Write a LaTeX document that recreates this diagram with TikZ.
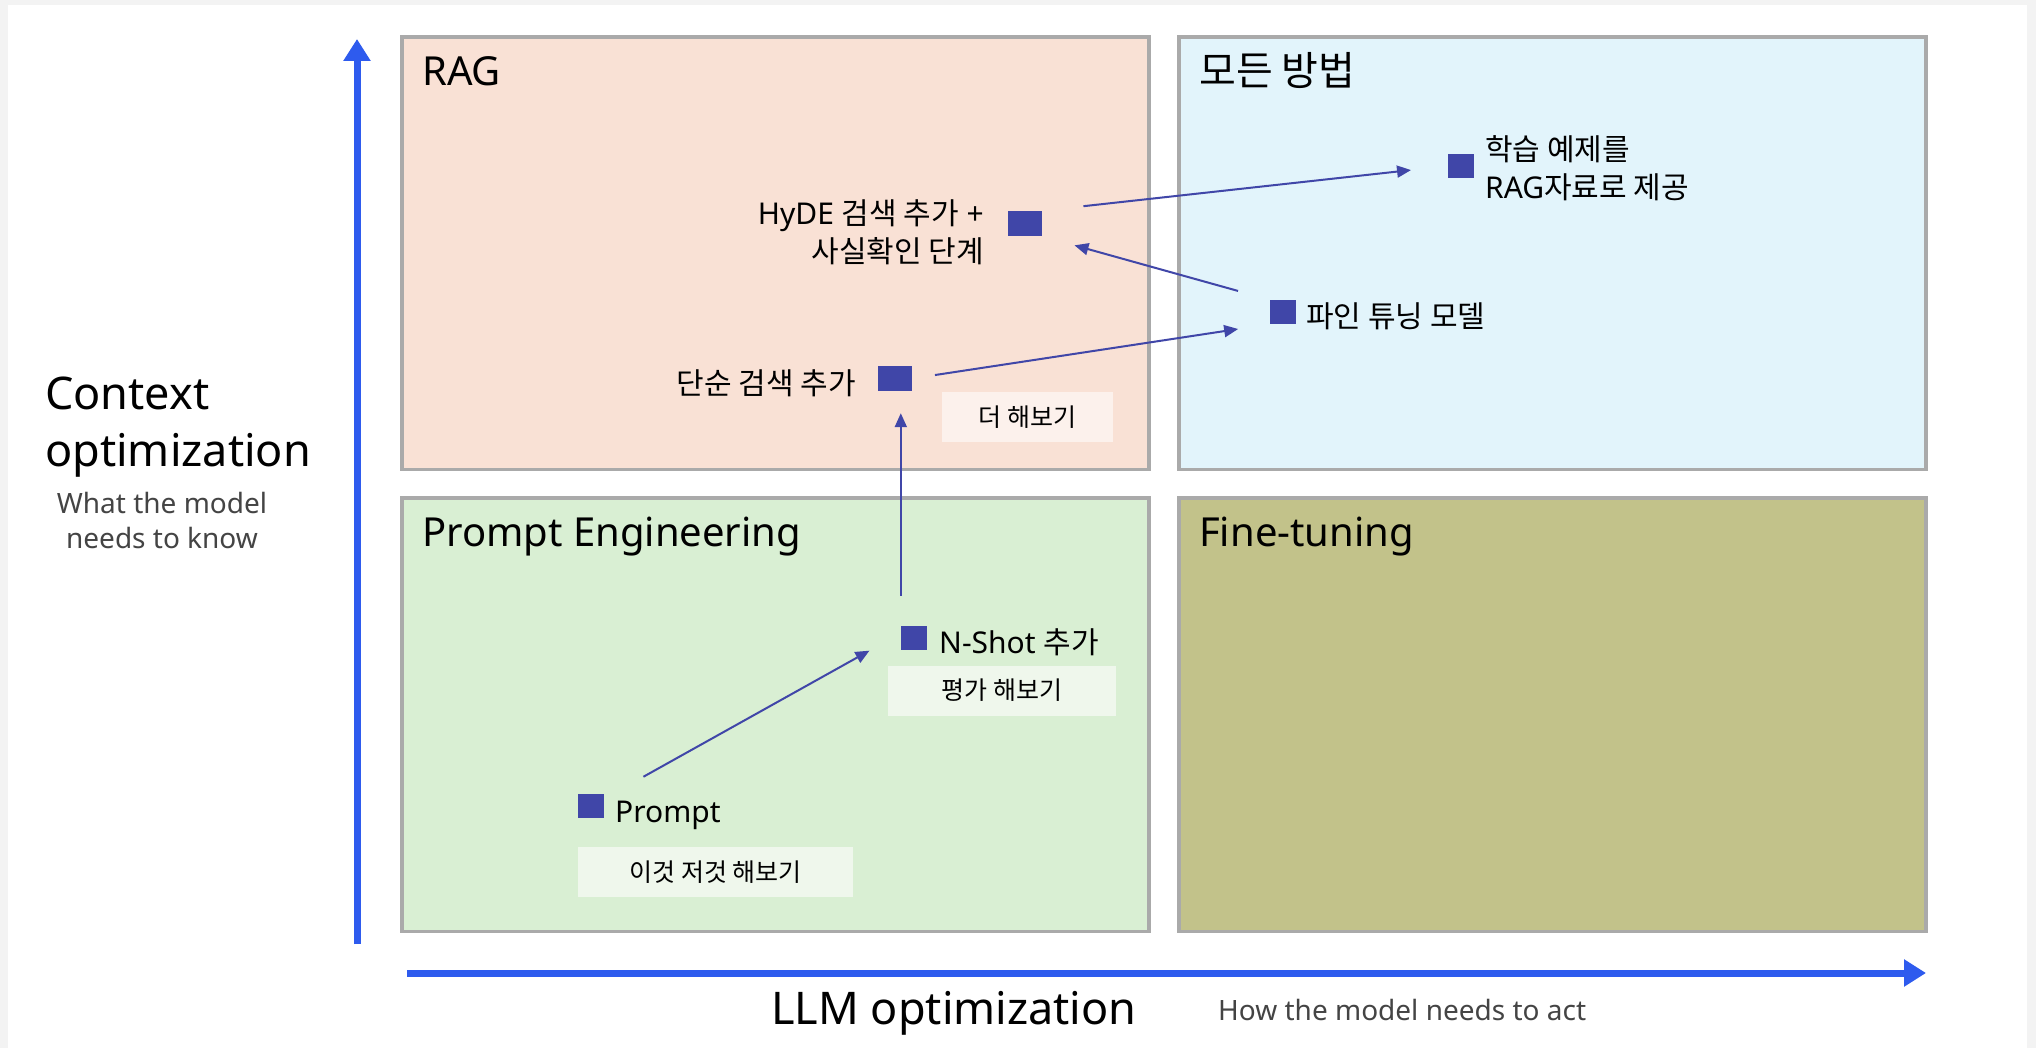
\documentclass[tikz,border=0pt]{standalone}
\usepackage{fontspec}
\setmainfont{Noto Sans}
\newfontfamily\kr{Noto Sans CJK KR}
\usetikzlibrary{arrows.meta}

\definecolor{pagegray}{HTML}{F3F3F3}
\definecolor{boxgray}{HTML}{AAAAAA}
\definecolor{ragfill}{HTML}{F9E1D5}
\definecolor{allfill}{HTML}{E2F4FB}
\definecolor{pefill}{HTML}{D9EFD3}
\definecolor{ftfill}{HTML}{C2C28A}
\definecolor{markblue}{HTML}{4046A8}
\definecolor{axisblue}{HTML}{2E5BEE}
\definecolor{subgray}{HTML}{444444}
\definecolor{tagpeach}{HTML}{FCF1EC}
\definecolor{taggreen}{HTML}{EFF7EC}

\tikzset{
  quad/.style={draw=boxgray, line width=3.5pt},
  quadtitle/.style={anchor=base west, inner sep=0pt, font=\fontsize{40}{48}\selectfont},
  spot/.style={fill=markblue, inner sep=0pt, minimum width=26pt, minimum height=24pt},
  widespot/.style={spot, minimum width=34pt, minimum height=25pt},
  lbl/.style={inner sep=0pt, font=\fontsize{30}{38}\selectfont},
  tagbox/.style={inner sep=0pt, minimum height=50pt, font=\kr\fontsize{25}{30}\selectfont},
  flow/.style={draw=markblue, line width=2pt, -{Triangle[length=14pt,width=12pt]}},
  axisline/.style={draw=axisblue, line width=7pt, -{Triangle[length=22pt,width=26pt]}},
}

\begin{document}
\begin{tikzpicture}[x=1pt, y=-1pt]
    \useasboundingbox (0,0) rectangle (2036,1048);
    \fill[pagegray] (0,0) rectangle (2036,1048);
    \fill[white] (8,5) rectangle (2027,1048);

    % quadrants
    \draw[quad, fill=ragfill] (402,37) rectangle (1149,469.5);
    \draw[quad, fill=allfill] (1179,37) rectangle (1926,469.5);
    \draw[quad, fill=pefill] (402,498) rectangle (1149,931.5);
    \draw[quad, fill=ftfill] (1179,498) rectangle (1926,931.5);

    \node[quadtitle] (ragtitle) at (422,86) {RAG};
    \node[quadtitle] (alltitle) at (1199,86) {\kr 모든 방법};
    \node[quadtitle] (petitle) at (422,546) {Prompt Engineering};
    \node[quadtitle] (fttitle) at (1199,546) {Fine-tuning};

    % axes
    \coordinate (vbot) at (357,944);
    \coordinate (vtop) at (357,39);
    \coordinate (hleft) at (407,973);
    \coordinate (hright) at (1926,973);
    \draw[axisline] (vbot) -- (vtop);
    \draw[axisline] (hleft) -- (hright);

    \node[anchor=west, align=left, inner sep=0pt, font=\fontsize{45}{57}\selectfont] (ctxlbl) at (45,427) {Context\\optimization};
    \node[align=center, inner sep=0pt, text=subgray, font=\fontsize{28}{35}\selectfont] (ctxsub) at (162,520) {What the model\\needs to know};
    \node[anchor=base west, inner sep=0pt, font=\fontsize{45}{54}\selectfont] (llmlbl) at (771,1024) {LLM optimization};
    \node[anchor=base west, inner sep=0pt, text=subgray, font=\fontsize{28}{35}\selectfont] (llmsub) at (1218,1020) {How the model needs to act};

    % steps
    \node[spot] (prompt) at (591,806) {};
    \node[spot] (nshot) at (914,638) {};
    \node[widespot] (simple) at (895,378.5) {};
    \node[spot] (tune) at (1283,312) {};
    \node[widespot] (hyde) at (1024.5,223.5) {};
    \node[spot] (learn) at (1461,166) {};

    \node[lbl, anchor=base west] (promptlbl) at (615,822) {Prompt};
    \node[lbl, anchor=base west] (nshotlbl) at (939,653) {N-Shot {\kr 추가}};
    \node[lbl, anchor=base east] (simplelbl) at (856,394) {\kr 단순 검색 추가};
    \node[lbl, anchor=base west] (tunelbl) at (1306,328) {\kr 파인 튜닝 모델};
    \node[lbl, anchor=east, align=right] (hydelbl) at (984,232) {HyDE {\kr 검색 추가} +\\{\kr 사실확인 단계}};
    \node[lbl, anchor=west, align=left] (learnlbl) at (1485,168) {{\kr 학습 예제를}\\RAG{\kr 자료로 제공}};

    \node[tagbox, fill=taggreen, minimum width=275pt] (prompttag) at (715.5,872) {이것 저것 해보기};
    \node[tagbox, fill=taggreen, minimum width=228pt] (nshottag) at (1002,690.5) {평가 해보기};
    \node[tagbox, fill=tagpeach, minimum width=171pt] (simpletag) at (1027.5,417) {더 해보기};

    % moves
    \draw[flow, shorten <=60pt, shorten >=51pt] (prompt.center) -- (nshot.north);
    \draw[flow, shorten <=30pt, shorten >=22pt] (nshot.north west) -- (nshot.north west |- simple.south);
    \draw[flow, shorten <=23pt, shorten >=32pt] (simple.east) -- (tune.south west);
    \draw[flow, shorten <=33pt, shorten >=34pt] (tune.north west) -- (hyde.south east);
    \draw[flow, shorten <=42pt, shorten >=37pt] (hyde.north east) -- (learn.west);
\end{tikzpicture}
\end{document}
